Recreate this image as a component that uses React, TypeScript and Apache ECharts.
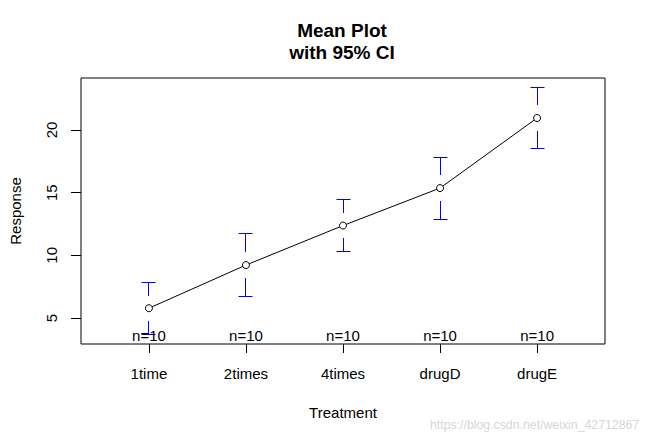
import React, { useEffect, useRef } from "react";
import * as echarts from "echarts";

const categories = ["1time", "2times", "4times", "drugD", "drugE"];
const means = [5.782, 9.225, 12.375, 15.361, 20.948];
const lowerCI = [3.72, 6.73, 10.28, 12.89, 18.55];
const upperCI = [7.84, 11.71, 14.46, 17.83, 23.35];
const counts = [10, 10, 10, 10, 10];
const yTicks = [5, 10, 15, 20];
const xMin = 0.3;
const xMax = 5.7;
const yMin = 2.93;
const yMax = 24.14;

const FONT = "'Liberation Sans', Arial, Helvetica, sans-serif";

const snap = (v: number) => Math.floor(v) + 0.5;

export default function App() {
  const ref = useRef<HTMLDivElement>(null);

  useEffect(() => {
    if (!ref.current) return;
    const chart = echarts.init(ref.current, undefined, { renderer: "svg" });
    const xPositions = categories.map((_, i) => i + 1);

    const option: any = {
      animation: false,
      backgroundColor: "#ffffff",
      textStyle: { fontFamily: FONT },
      graphic: [
        {
          type: "text",
          x: 342,
          y: 30.5,
          style: {
            text: "Mean Plot",
            fontSize: 19,
            fontWeight: "bold",
            fontFamily: FONT,
            fill: "#000",
            textAlign: "center",
            textVerticalAlign: "middle",
          },
        },
        {
          type: "text",
          x: 342,
          y: 52,
          style: {
            text: "with 95% CI",
            fontSize: 19,
            fontWeight: "bold",
            fontFamily: FONT,
            fill: "#000",
            textAlign: "center",
            textVerticalAlign: "middle",
          },
        },
        {
          type: "text",
          x: 430,
          y: 425,
          style: {
            text: "https://blog.csdn.net/weixin_42712867",
            fontSize: 12.3,
            fontFamily: FONT,
            fill: "#d6d6d6",
            textAlign: "left",
            textVerticalAlign: "middle",
          },
        },
      ],
      grid: {
        left: 79,
        top: 78,
        width: 526,
        height: 266,
        show: true,
        borderColor: "#000",
        borderWidth: 1,
        backgroundColor: "transparent",
      },
      xAxis: {
        type: "value",
        min: xMin,
        max: xMax,
        name: "Treatment",
        nameLocation: "middle",
        nameGap: 61,
        nameTextStyle: { fontSize: 15, color: "#000", fontFamily: FONT },
        axisLine: { show: false },
        splitLine: { show: false },
        axisTick: {
          show: true,
          length: 9,
          lineStyle: { color: "#000", width: 1 },
          customValues: xPositions,
        },
        axisLabel: {
          customValues: xPositions,
          fontSize: 15,
          color: "#000",
          fontFamily: FONT,
          margin: 22,
          formatter: (v: number) => categories[Math.round(v) - 1] ?? "",
        },
      },
      yAxis: {
        type: "value",
        min: yMin,
        max: yMax,
        name: "Response",
        nameLocation: "middle",
        nameGap: 58,
        nameRotate: 90,
        nameTextStyle: { fontSize: 15, color: "#000", fontFamily: FONT },
        axisLine: { show: false },
        splitLine: { show: false },
        axisTick: {
          show: true,
          length: 10,
          lineStyle: { color: "#000", width: 1 },
          customValues: yTicks,
        },
        axisLabel: {
          customValues: yTicks,
          rotate: 90,
          fontSize: 15,
          color: "#000",
          fontFamily: FONT,
          margin: 22,
        },
      },
      series: [
        {
          type: "custom",
          name: "CI",
          data: categories.map((_, i) => [i + 1, lowerCI[i], upperCI[i], means[i]]),
          renderItem: (params: any, api: any) => {
            const x = api.value(0);
            const lo = api.coord([x, api.value(1)]);
            const hi = api.coord([x, api.value(2)]);
            const m = api.coord([x, api.value(3)]);
            const gap = 12.7;
            const half = 7;
            const cx = snap(lo[0]);
            const hy = snap(hi[1]);
            const ly = snap(lo[1]);
            const style = { stroke: "#0000FF", lineWidth: 1, fill: null };
            const children: any[] = [];
            if (hy < m[1] - gap) {
              children.push({
                type: "line",
                shape: { x1: cx, y1: hy, x2: cx, y2: Math.round(m[1] - gap) },
                style,
              });
            }
            children.push({
              type: "line",
              shape: { x1: cx - half, y1: hy, x2: cx + half, y2: hy },
              style,
            });
            if (ly > m[1] + gap) {
              children.push({
                type: "line",
                shape: { x1: cx, y1: Math.round(m[1] + gap), x2: cx, y2: ly },
                style,
              });
            }
            children.push({
              type: "line",
              shape: { x1: cx - half, y1: ly, x2: cx + half, y2: ly },
              style,
            });
            return { type: "group", children };
          },
          z: 2,
        },
        {
          type: "line",
          name: "Mean",
          data: categories.map((_, i) => [i + 1, means[i]]),
          symbol: "circle",
          symbolSize: 7,
          showSymbol: true,
          lineStyle: { color: "#000", width: 1 },
          itemStyle: { color: "#fff", borderColor: "#000", borderWidth: 1 },
          z: 3,
        },
        {
          type: "custom",
          name: "n",
          data: categories.map((_, i) => [i + 1, counts[i]]),
          renderItem: (params: any, api: any) => {
            const x = api.value(0);
            const p = api.coord([x, yMin]);
            return {
              type: "text",
              x: p[0],
              y: p[1] - 9,
              style: {
                text: "n=" + api.value(1),
                fontSize: 15,
                fontFamily: FONT,
                fill: "#000",
                textAlign: "center",
                textVerticalAlign: "middle",
              },
            };
          },
          z: 4,
        },
      ],
    };

    chart.setOption(option);
    return () => chart.dispose();
  }, []);

  return (
    <div
      ref={ref}
      style={{ position: "absolute", left: 0, top: 0, width: 646, height: 442 }}
    />
  );
}
